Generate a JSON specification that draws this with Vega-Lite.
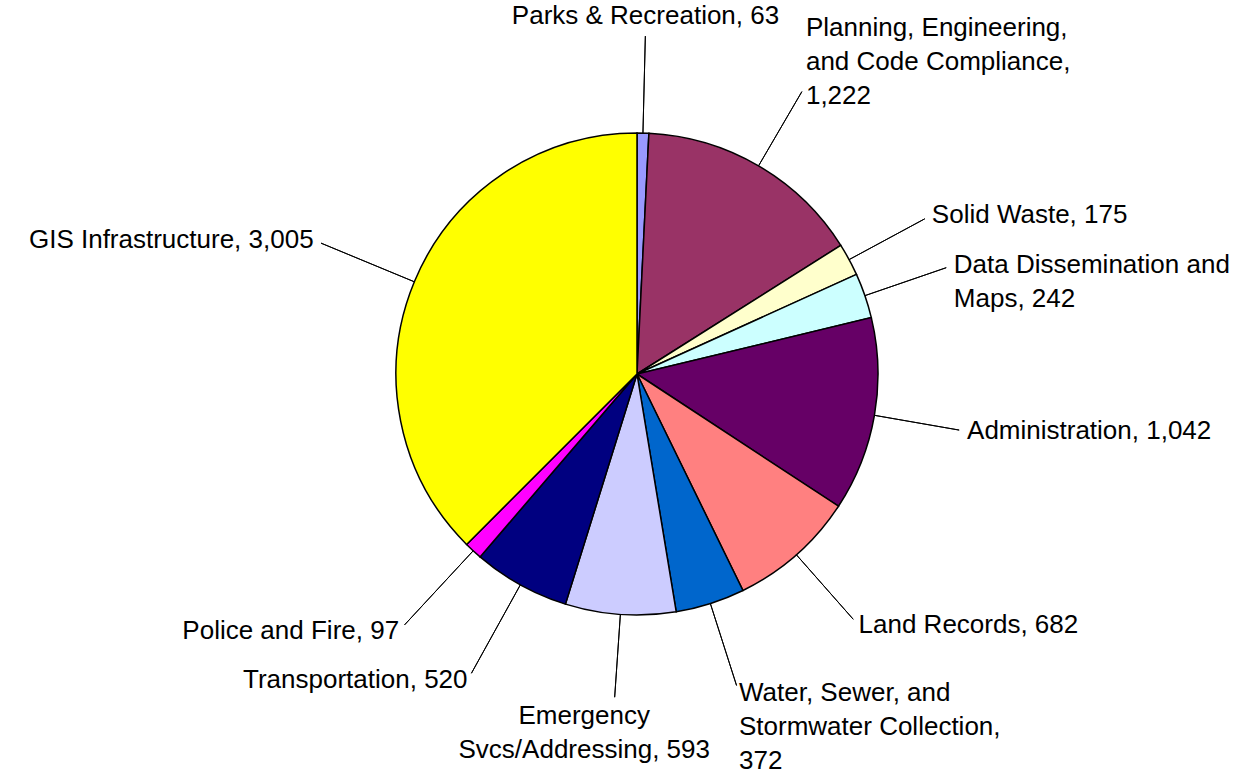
{
  "$schema": "https://vega.github.io/schema/vega-lite/v6.json",
  "width": 1216,
  "height": 748,
  "autosize": {"type": "none"},
  "padding": {"left": 29, "top": 0, "right": 0, "bottom": 30},
  "background": "white",
  "config": {
    "view": {"stroke": null},
    "text": {"font": "Liberation Sans", "fontSize": 26, "lineHeight": 34, "fill": "black"}
  },
  "data": {
    "values": [
      {"category": "Parks & Recreation", "value": 63, "label": "Parks & Recreation, 63"},
      {"category": "Planning, Engineering, and Code Compliance", "value": 1222, "label": "Planning, Engineering,\nand Code Compliance,\n1,222"},
      {"category": "Solid Waste", "value": 175, "label": "Solid Waste, 175"},
      {"category": "Data Dissemination and Maps", "value": 242, "label": "Data Dissemination and\nMaps, 242"},
      {"category": "Administration", "value": 1042, "label": "Administration, 1,042"},
      {"category": "Land Records", "value": 682, "label": "Land Records, 682"},
      {"category": "Water, Sewer, and Stormwater Collection", "value": 372, "label": "Water, Sewer, and\nStormwater Collection,\n372"},
      {"category": "Emergency Svcs/Addressing", "value": 593, "label": "Emergency\nSvcs/Addressing, 593"},
      {"category": "Transportation", "value": 520, "label": "Transportation, 520"},
      {"category": "Police and Fire", "value": 97, "label": "Police and Fire, 97"},
      {"category": "GIS Infrastructure", "value": 3005, "label": "GIS Infrastructure, 3,005"}
    ]
  },
  "transform": [{"stack": "value", "groupby": [], "as": ["v0", "v1"]}],
  "layer": [
    {
      "mark": {"type": "arc", "radius": 241, "stroke": "black", "strokeWidth": 1.5},
      "encoding": {
        "theta": {"field": "v1", "type": "quantitative", "stack": null, "scale": {"nice": false, "zero": true}},
        "theta2": {"field": "v0"},
        "color": {
          "field": "category",
          "type": "nominal",
          "legend": null,
          "scale": {
            "domain": ["Parks & Recreation", "Planning, Engineering, and Code Compliance", "Solid Waste", "Data Dissemination and Maps", "Administration", "Land Records", "Water, Sewer, and Stormwater Collection", "Emergency Svcs/Addressing", "Transportation", "Police and Fire", "GIS Infrastructure"],
            "range": ["#9999FF", "#993366", "#FFFFCC", "#CCFFFF", "#660066", "#FF8080", "#0066CC", "#CCCCFF", "#000080", "#FF00FF", "#FFFF00"]
          }
        }
      }
    },
    {
      "transform": [
        {"fold": ["v0", "v1"], "as": ["edge", "pos"]},
        {"aggregate": [{"op": "mean", "field": "pos", "as": "mid"}], "groupby": ["category", "label"]}
      ],
      "layer": [
        {
          "transform": [{"filter": {"field": "category", "oneOf": ["Planning, Engineering, and Code Compliance", "Solid Waste", "Data Dissemination and Maps", "Administration", "Land Records", "Water, Sewer, and Stormwater Collection"]}}],
          "mark": {"type": "arc", "innerRadius": 241, "outerRadius": 327, "stroke": "black", "strokeWidth": 1, "fill": null},
          "encoding": {"theta": {"field": "mid", "type": "quantitative", "stack": null}, "theta2": {"field": "mid"}}
        },
        {
          "transform": [{"filter": {"field": "category", "oneOf": ["Solid Waste", "Data Dissemination and Maps", "Administration", "Land Records", "Water, Sewer, and Stormwater Collection"]}}],
          "mark": {"type": "text", "radius": 335, "align": "left", "baseline": "middle", "lineBreak": "\n"},
          "encoding": {"theta": {"field": "mid", "type": "quantitative", "stack": null}, "text": {"field": "label"}}
        },
        {
          "transform": [{"filter": {"field": "category", "equal": "Planning, Engineering, and Code Compliance"}}],
          "mark": {"type": "text", "radius": 335, "align": "left", "baseline": "middle", "dy": -57, "lineBreak": "\n"},
          "encoding": {"theta": {"field": "mid", "type": "quantitative", "stack": null}, "text": {"field": "label"}}
        },
        {
          "transform": [{"filter": {"field": "category", "oneOf": ["GIS Infrastructure", "Police and Fire", "Transportation"]}}],
          "mark": {"type": "arc", "innerRadius": 241, "outerRadius": 342, "stroke": "black", "strokeWidth": 1, "fill": null},
          "encoding": {"theta": {"field": "mid", "type": "quantitative", "stack": null}, "theta2": {"field": "mid"}}
        },
        {
          "transform": [{"filter": {"field": "category", "oneOf": ["GIS Infrastructure", "Police and Fire", "Transportation"]}}],
          "mark": {"type": "text", "radius": 350, "align": "right", "baseline": "middle", "lineBreak": "\n"},
          "encoding": {"theta": {"field": "mid", "type": "quantitative", "stack": null}, "text": {"field": "label"}}
        },
        {
          "transform": [{"filter": {"field": "category", "equal": "Parks & Recreation"}}],
          "mark": {"type": "arc", "innerRadius": 241, "outerRadius": 338, "stroke": "black", "strokeWidth": 1, "fill": null},
          "encoding": {"theta": {"field": "mid", "type": "quantitative", "stack": null}, "theta2": {"field": "mid"}}
        },
        {
          "transform": [{"filter": {"field": "category", "equal": "Parks & Recreation"}}],
          "mark": {"type": "text", "radius": 345, "align": "center", "baseline": "bottom", "lineBreak": "\n"},
          "encoding": {"theta": {"field": "mid", "type": "quantitative", "stack": null}, "text": {"field": "label"}}
        },
        {
          "transform": [{"filter": {"field": "category", "equal": "Emergency Svcs/Addressing"}}],
          "mark": {"type": "arc", "innerRadius": 241, "outerRadius": 324, "stroke": "black", "strokeWidth": 1, "fill": null},
          "encoding": {"theta": {"field": "mid", "type": "quantitative", "stack": null}, "theta2": {"field": "mid"}}
        },
        {
          "transform": [{"filter": {"field": "category", "equal": "Emergency Svcs/Addressing"}}],
          "mark": {"type": "text", "radius": 330, "align": "center", "baseline": "top", "dx": -30, "lineBreak": "\n"},
          "encoding": {"theta": {"field": "mid", "type": "quantitative", "stack": null}, "text": {"field": "label"}}
        }
      ]
    }
  ]
}
